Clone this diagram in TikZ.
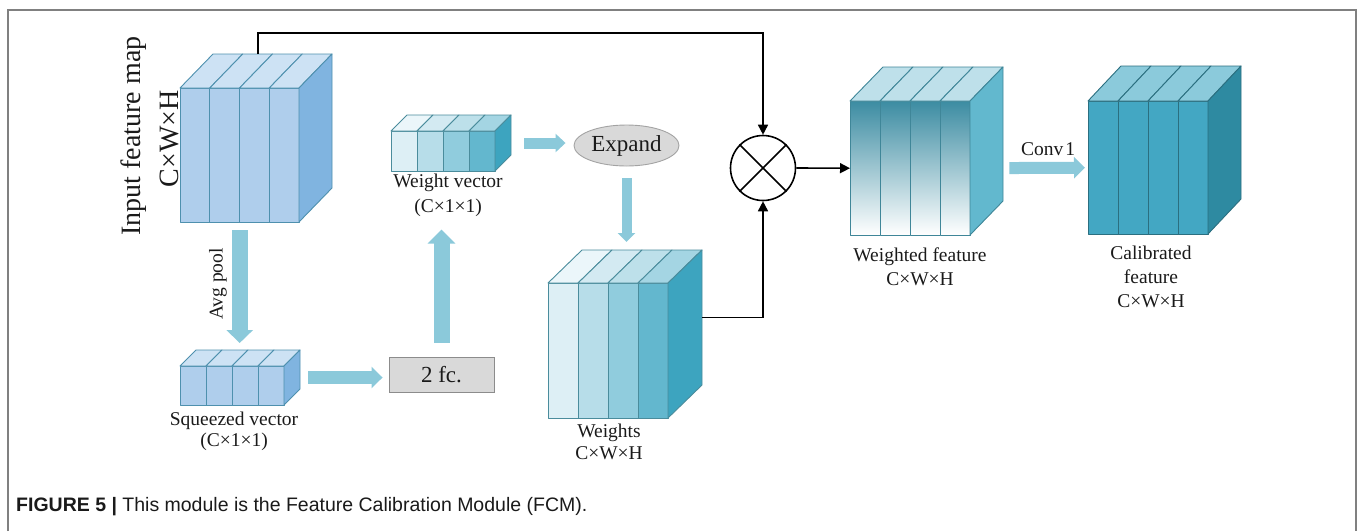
\documentclass[tikz,border=0pt]{standalone}
\usepackage{fontspec}
\setmainfont{Liberation Serif}
\newfontfamily\capfont{Liberation Sans}
\usetikzlibrary{arrows.meta,calc,shapes.geometric}
\definecolor{frameC}{HTML}{808080}
\definecolor{txtC}{HTML}{1A1A1A}
\definecolor{arrowC}{HTML}{8BC9DA}
\definecolor{inFront}{HTML}{AFCEEC}
\definecolor{inTop}{HTML}{CDE2F4}
\definecolor{inSide}{HTML}{80B4E0}
\definecolor{inLine}{HTML}{4E90AE}
\definecolor{wA}{HTML}{DDEFF5}
\definecolor{wB}{HTML}{B7DDE9}
\definecolor{wC}{HTML}{90CCDD}
\definecolor{wD}{HTML}{63B7CE}
\definecolor{wtA}{HTML}{EBF6FA}
\definecolor{wtB}{HTML}{D3EAF2}
\definecolor{wtC}{HTML}{BDE0EA}
\definecolor{wtD}{HTML}{A4D5E3}
\definecolor{wS}{HTML}{3DA4BF}
\definecolor{wLine}{HTML}{4A8C9C}
\definecolor{wfDark}{HTML}{3C8CA2}
\definecolor{wfMid}{HTML}{A8D1DC}
\definecolor{wfTop}{HTML}{BEE0EA}
\definecolor{wfSide}{HTML}{62B8CE}
\definecolor{wfLine}{HTML}{3F8698}
\definecolor{caFront}{HTML}{43A7C3}
\definecolor{caTop}{HTML}{8BCADB}
\definecolor{caSide}{HTML}{2E8AA1}
\definecolor{caLine}{HTML}{2B6F80}
\definecolor{boxFill}{HTML}{D9D9D9}
\definecolor{boxLine}{HTML}{8C8C8C}
\tikzset{
  cubeline/.style={line width=0.9pt, line join=round},
  inl/.style={draw=inLine},
  inf1/.style={fill=inFront}, inf2/.style={fill=inFront}, inf3/.style={fill=inFront}, inf4/.style={fill=inFront},
  int1/.style={fill=inTop}, int2/.style={fill=inTop}, int3/.style={fill=inTop}, int4/.style={fill=inTop},
  ins/.style={fill=inSide},
  wl/.style={draw=wLine},
  wf1/.style={fill=wA}, wf2/.style={fill=wB}, wf3/.style={fill=wC}, wf4/.style={fill=wD},
  wt1/.style={fill=wtA}, wt2/.style={fill=wtB}, wt3/.style={fill=wtC}, wt4/.style={fill=wtD},
  ws/.style={fill=wS},
  gl/.style={draw=wfLine},
  gf1/.style={top color=wfDark, middle color=wfMid, bottom color=white},
  gf2/.style={gf1}, gf3/.style={gf1}, gf4/.style={gf1},
  gt1/.style={fill=wfTop}, gt2/.style={fill=wfTop}, gt3/.style={fill=wfTop}, gt4/.style={fill=wfTop},
  gs/.style={fill=wfSide},
  cl/.style={draw=caLine},
  cf1/.style={fill=caFront}, cf2/.style={fill=caFront}, cf3/.style={fill=caFront}, cf4/.style={fill=caFront},
  ct1/.style={fill=caTop}, ct2/.style={fill=caTop}, ct3/.style={fill=caTop}, ct4/.style={fill=caTop},
  cs/.style={fill=caSide},
  blk/.style n args={3}{draw=arrowC, line width=#1pt, -{Triangle[width=#2pt,length=#3pt]}},
  conn/.style={line width=1.6pt, draw=black},
  connarr/.style={conn, -{Triangle[length=10pt,width=10pt]}},
  lab/.style={font=\fontsize{19.5}{22}\selectfont, inner sep=0pt, text=txtC},
  biglab/.style={font=\fontsize{28}{32}\selectfont, inner sep=0pt, text=txtC, rotate=90},
}
% name, x, y, slice width, height, dx, dy, style prefix
\newcommand\mkcube[8]{%
  \node[inner sep=0pt, minimum width=4*#4pt, minimum height=#5pt, anchor=north west] (#1) at (#2,#3) {};
  \filldraw[cubeline,#8l,#8f1] (#2,#3) rectangle ++(#4,#5);
  \filldraw[cubeline,#8l,#8f2] ({#2+#4},#3) rectangle ++(#4,#5);
  \filldraw[cubeline,#8l,#8f3] ({#2+2*#4},#3) rectangle ++(#4,#5);
  \filldraw[cubeline,#8l,#8f4] ({#2+3*#4},#3) rectangle ++(#4,#5);
  \filldraw[cubeline,#8l,#8t1] (#2,#3) -- ++(#6,#7) -- ++(#4,0) -- ({#2+#4},#3) -- cycle;
  \filldraw[cubeline,#8l,#8t2] ({#2+#4},#3) -- ++(#6,#7) -- ++(#4,0) -- ({#2+2*#4},#3) -- cycle;
  \filldraw[cubeline,#8l,#8t3] ({#2+2*#4},#3) -- ++(#6,#7) -- ++(#4,0) -- ({#2+3*#4},#3) -- cycle;
  \filldraw[cubeline,#8l,#8t4] ({#2+3*#4},#3) -- ++(#6,#7) -- ++(#4,0) -- ({#2+4*#4},#3) -- cycle;
  \filldraw[cubeline,#8l,#8s] ({#2+4*#4},#3) -- ++(#6,#7) -- ++(0,#5) -- ({#2+4*#4},{#3+#5}) -- cycle;
  \coordinate (#1-bt) at ({#2+#6},{#3+#7});
  \coordinate (#1-back) at ({#2+4*#4+#6},{#3+#7+0.5*#5});
  \coordinate (#1-side) at ({#2+4*#4+#6},{#3+0.5*#7+0.5*#5});
}
\begin{document}
\begin{tikzpicture}[x=1pt,y=-1pt]
\useasboundingbox (0,0) rectangle (1360,531);
% frame
\draw[frameC, line width=2pt] (8,531) -- (8,10) -- (1356,10) -- (1356,531);

% cubes
\mkcube{in}{180}{88}{29.75}{134}{33}{-34}{in}
\mkcube{sq}{180}{366}{26}{39}{16}{-16}{in}
\mkcube{wv}{391}{131}{26}{40}{16}{-16}{w}
\mkcube{wts}{548}{283}{30}{135}{34}{-33}{w}
\mkcube{wf}{850}{101}{30}{134}{33}{-34}{g}
\mkcube{cal}{1088}{101}{30}{133}{33}{-35}{c}

% other nodes
\node[draw=boxLine, fill=boxFill, line width=0.9pt, minimum width=105pt, minimum height=35pt,
      inner sep=0pt, font=\fontsize{23}{26}\selectfont, text=txtC] (fc) at (441.5,374.5) {2 fc.};
\node[ellipse, draw=boxLine!80, fill=boxFill, line width=0.9pt, minimum width=105pt, minimum height=41pt,
      inner sep=0pt, font=\fontsize{23}{26}\selectfont, text=txtC] (exp) at (626.5,145.5) {Expand};
\node[circle, draw, line width=1.6pt, fill=white, minimum size=65pt, inner sep=0pt] (mul) at (763,168) {};
\draw[line width=1.6pt] (mul.45) -- (mul.225) (mul.135) -- (mul.315);

% labels
\node[biglab] (inlab1) at (134,136) {Input feature map};
\node[biglab] (inlab2) at (169,139) {C×W×H};
\node[lab, rotate=90] (avg) at (218,284) {Avg pool};
\node[lab] (sqlab1) at (234,421) {Squeezed vector};
\node[lab] (sqlab2) at (234,442) {(C×1×1)};
\node[lab] (wvlab1) at (448,182.5) {Weight vector};
\node[lab] (wvlab2) at (448,207.5) {(C×1×1)};
\node[lab] (wtslab1) at (609,432.5) {Weights};
\node[lab] (wtslab2) at (609,453) {C×W×H};
\node[lab] (wflab1) at (920,256.5) {Weighted feature};
\node[lab] (wflab2) at (920,279) {C×W×H};
\node[lab] (conv) at (1048,149.5) {Conv\kern2pt 1};
\node[lab] (callab1) at (1151,253) {Calibrated};
\node[lab] (callab2) at (1151,276.5) {feature};
\node[lab] (callab3) at (1151,301.5) {C×W×H};

% block arrows
\draw[blk={16}{26}{13}, shorten <=8pt, shorten >=7pt] (in.south) -- (in.south |- sq-bt);
\draw[blk={13}{21}{11}, shorten <=8pt, shorten >=6pt] (sq-side) -- (sq-side -| fc.west);
\draw[blk={16}{27}{14}, shorten <=14pt, shorten >=13pt] (fc.north) -- (fc.north |- wvlab2.south);
\draw[blk={11}{18}{10}, shorten <=13pt, shorten >=8pt] (wv-side) -- (wv-side -| exp.west);
\draw[blk={10}{17}{9}, shorten <=12pt, shorten >=8pt] (exp.south) -- (exp.south |- wts-bt);
\draw[blk={12}{21}{11}, shorten <=39pt, shorten >=3pt] (wf.east) -- (cal.west);

% black connectors
\coordinate (topline) at (0,33);
\coordinate (instart) at ($(in-bt)+(45,0)$);
\draw[connarr] (instart) -- (instart |- topline) -| (mul.north);
\draw[connarr] (wts-back) -| (mul.south);
\draw[connarr] (mul.east) -- (wf.west);

% caption
\node[anchor=west, inner sep=0pt, text=txtC, font=\capfont\fontsize{19.5}{22}\selectfont] (cap) at (16,507)
  {{\bfseries FIGURE 5 |} This module is the Feature Calibration Module (FCM).};
\end{tikzpicture}
\end{document}
